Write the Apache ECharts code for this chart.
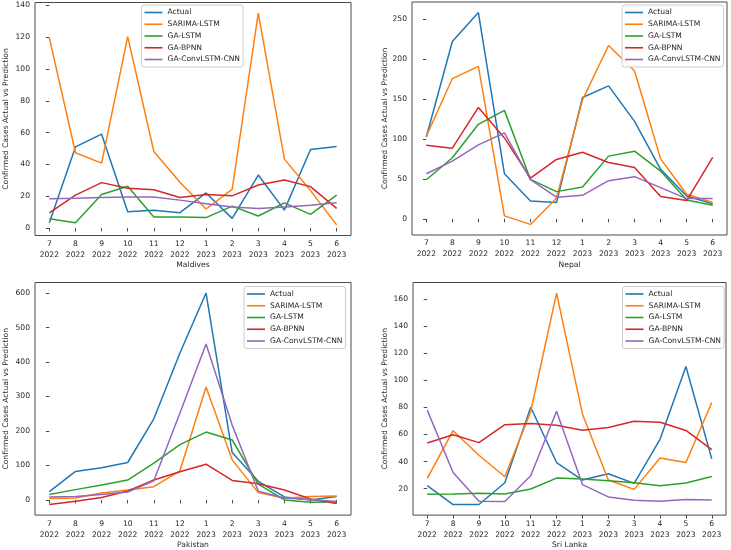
<!DOCTYPE html>
<html><head><meta charset="utf-8">
<script src="https://cdn.jsdelivr.net/npm/echarts@6/dist/echarts.min.js"></script>
<style>html,body{margin:0;padding:0;background:#fff}#c{width:731px;height:550px}</style>
</head><body><div id="c"></div>
<script>
const monthLabels = ['7\n2022','8\n2022','9\n2022','10\n2022','11\n2022','12\n2022','1\n2023','2\n2023','3\n2023','4\n2023','5\n2023','6\n2023'];
const seriesNames = ['Actual','SARIMA-LSTM','GA-LSTM','GA-BPNN','GA-ConvLSTM-CNN'];
const countries = ['Maldives','Nepal','Pakistan','Sri Lanka'];

const maldivesActual   = [3.3, 51, 59, 10.2, 11.2, 9.6, 22, 6, 33.3, 11.2, 49.4, 51.2];
const maldivesSarima   = [119.6, 47.3, 40.8, 120.4, 48.1, 28.7, 11.9, 24.2, 135.2, 43.3, 23.5, 1.9];
const maldivesGaLstm   = [5.8, 3.3, 21, 26.2, 6.9, 6.9, 6.5, 13.7, 7.5, 15.8, 8.5, 20.6];
const maldivesGaBpnn   = [9.4, 20.6, 28.5, 25, 24, 19.2, 21, 20.2, 27, 30.2, 26, 12.3];
const maldivesConv     = [18.3, 18.7, 19.2, 19.4, 19.4, 17.5, 15.2, 13.1, 12.3, 13.1, 14.2, 15.8];

const nepalActual      = [102.4, 221.8, 257.9, 56.4, 22.4, 20.3, 151.7, 166.3, 121.9, 61.8, 28.6, 18.7];
const nepalSarima      = [103.2, 175.4, 190.7, 3.7, -7, 25.7, 148.8, 216.8, 184.9, 75, 30.7, 20.3];
const nepalGaLstm      = [48.9, 76.3, 118.2, 135.6, 49.3, 34, 39.8, 78.4, 84.6, 59.7, 23.6, 17];
const nepalGaBpnn      = [92, 88.3, 139.3, 101.2, 51, 74.2, 83.3, 70.5, 64.3, 27.8, 22.8, 76.7];
const nepalConv        = [56.4, 72.1, 92.5, 107.4, 48.9, 27, 29.4, 47.7, 52.7, 39, 25.3, 25.3];

const pakistanActual   = [24, 82.6, 93.1, 108.5, 235.2, 426.2, 600, 137.3, 53.8, 8.6, 0, 9.6];
const pakistanSarima   = [3.8, 5.8, 20.2, 28.8, 38.4, 84.5, 327.4, 116.2, 21.1, 4.8, 9.6, 11.5];
const pakistanGaLstm   = [15.4, 29.8, 43.2, 57.6, 106.6, 160.3, 196.8, 173.8, 46.1, 0, -6.7, -5.8];
const pakistanGaBpnn   = [-13.4, -3.8, 6.7, 25.9, 57.6, 81.6, 103.7, 56.6, 47, 28.8, 2.9, -10.6];
const pakistanConv     = [8.6, 9.6, 15.4, 23, 55.7, 252, 452, 217, 25, 5.8, 1, -4.8];

const sriLankaActual   = [22.2, 8.3, 8.3, 24.4, 80.1, 39.3, 26.4, 31, 23.9, 56.4, 110.2, 42];
const sriLankaSarima   = [27.6, 62.8, 44.7, 28.8, 77, 164.4, 75.2, 26.4, 19.5, 42.7, 39.3, 83.6];
const sriLankaGaLstm   = [15.8, 16.1, 16.6, 16.1, 19.8, 27.8, 27.1, 25.9, 24.4, 22.2, 24.2, 29];
const sriLankaGaBpnn   = [53.7, 59.8, 54, 67.2, 68.1, 66.9, 63.2, 65.2, 69.8, 69.1, 63, 48.8];
const sriLankaConv     = [78, 32, 10.7, 10.5, 29.5, 77.1, 23, 13.9, 11.5, 10.7, 12, 11.7];

const maldivesTicks = [0, 20, 40, 60, 80, 100, 120, 140];
const nepalTicks = [0, 50, 100, 150, 200, 250];
const pakistanTicks = [0, 100, 200, 300, 400, 500, 600];
const sriLankaTicks = [20, 40, 60, 80, 100, 120, 140, 160];

const panelData = [
  [maldivesActual, maldivesSarima, maldivesGaLstm, maldivesGaBpnn, maldivesConv],
  [nepalActual, nepalSarima, nepalGaLstm, nepalGaBpnn, nepalConv],
  [pakistanActual, pakistanSarima, pakistanGaLstm, pakistanGaBpnn, pakistanConv],
  [sriLankaActual, sriLankaSarima, sriLankaGaLstm, sriLankaGaBpnn, sriLankaConv]
];
const panelTicks = [maldivesTicks, nepalTicks, pakistanTicks, sriLankaTicks];

const colors = ['#1f77b4', '#ff7f0e', '#2ca02c', '#d62728', '#9467bd'];
const FONT = 'DejaVu Sans';
const FS = 7.6;
const TXT = '#262626';
const FRAME = '#4a4a4a';

const grids = [
  {left: 35, top: 2.5, width: 316, height: 233},
  {left: 412, top: 2, width: 315, height: 233},
  {left: 35, top: 282.5, width: 316, height: 233.5},
  {left: 413, top: 282.5, width: 313, height: 233.5}
];
const legendPos = [
  {left: 141.5, top: 5},
  {left: 622, top: 5},
  {left: 244, top: 286.5},
  {left: 622.5, top: 286.5}
];
const yNameGap = [24.5, 22.5, 24.5, 23.5];

const xIdx = monthLabels.map((_, i) => i);

const option = {
  animation: false,
  backgroundColor: '#fff',
  color: colors,
  grid: grids.map(g => Object.assign({show: true, borderColor: FRAME, borderWidth: 1, backgroundColor: 'transparent'}, g)),
  xAxis: countries.map((name, i) => ({
    type: 'value', gridIndex: i, min: -0.55, max: monthLabels.length - 1 + 0.55,
    name: name, nameLocation: 'middle', nameGap: 24,
    nameTextStyle: {fontFamily: FONT, fontSize: FS, color: TXT},
    axisLine: {show: false},
    splitLine: {show: false},
    axisTick: {show: true, customValues: xIdx, length: 3.5, lineStyle: {color: FRAME, width: 1}},
    axisLabel: {customValues: xIdx, formatter: v => monthLabels[Math.round(v)] || '', fontFamily: FONT, fontSize: FS, color: TXT, margin: 3, lineHeight: 11, align: 'center'}
  })),
  yAxis: countries.map((name, i) => {
    const all = [].concat(...panelData[i]);
    const lo = Math.min(...all), hi = Math.max(...all);
    const pad = (hi - lo) * 0.05;
    return {
      type: 'value', gridIndex: i, min: lo - pad, max: hi + pad,
      name: 'Confirmed Cases Actual vs Prediction', nameLocation: 'middle', nameGap: yNameGap[i],
      nameTextStyle: {fontFamily: FONT, fontSize: FS, color: TXT},
      axisLine: {show: false},
      splitLine: {show: false},
      axisTick: {show: true, customValues: panelTicks[i], length: 3.5, lineStyle: {color: FRAME, width: 1}},
      axisLabel: {customValues: panelTicks[i], fontFamily: FONT, fontSize: FS, color: TXT, margin: 5}
    };
  }),
  legend: legendPos.map(p => ({
    left: p.left, top: p.top, orient: 'vertical', icon: 'rect',
    itemWidth: 18, itemHeight: 1.6, itemGap: 2.75,
    padding: [3, 3, 3, 3],
    backgroundColor: 'rgba(255,255,255,0.85)', borderColor: '#cccccc', borderWidth: 1, borderRadius: 2.5,
    textStyle: {fontFamily: FONT, fontSize: FS, color: TXT, lineHeight: 9},
    data: seriesNames
  })),
  series: []
};

panelData.forEach((arrs, p) => {
  arrs.forEach((vals, s) => {
    option.series.push({
      type: 'line', name: seriesNames[s], xAxisIndex: p, yAxisIndex: p,
      data: vals.map((v, i) => [i, v]),
      symbol: 'none', clip: true,
      lineStyle: {width: 1.5, color: colors[s]},
      itemStyle: {color: colors[s]},
      z: 2 + s
    });
  });
});

const chart = echarts.init(document.getElementById('c'), null, {renderer: 'canvas'});
chart.setOption(option);
</script>
</body></html>
